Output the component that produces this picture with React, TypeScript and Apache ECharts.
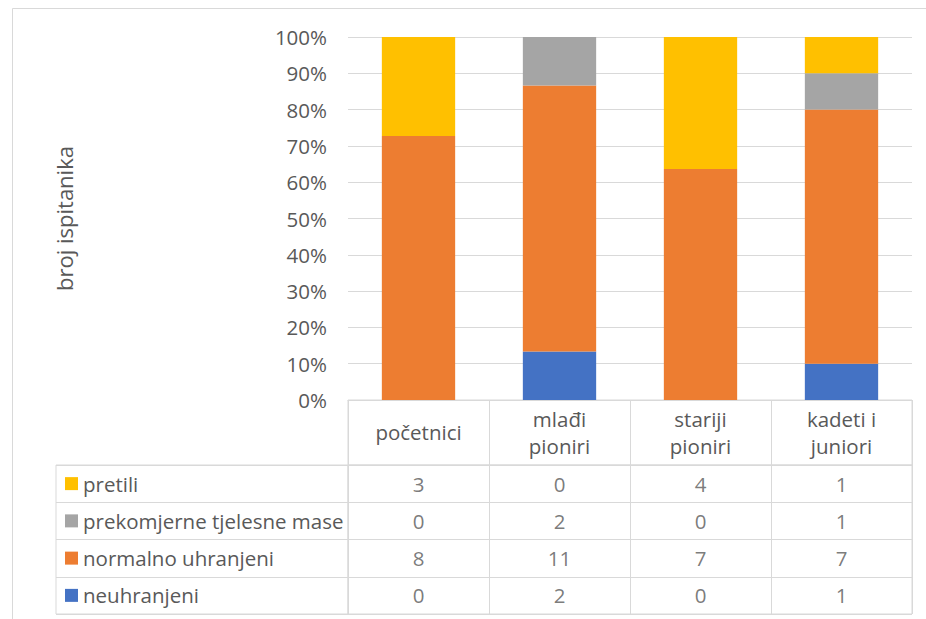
import React, { useEffect, useRef } from "react";
import * as echarts from "echarts";

const categories = ["početnici", "mlađi\npioniri", "stariji\npioniri", "kadeti i\njuniori"];
const seriesNames = ["neuhranjeni", "normalno uhranjeni", "prekomjerne tjelesne mase", "pretili"];
const neuhranjeni = [0, 2, 0, 1];
const normalnoUhranjeni = [8, 11, 7, 7];
const prekomjerne = [0, 2, 0, 1];
const pretili = [3, 0, 4, 1];
const colors = ["#4472C4", "#ED7D31", "#A5A5A5", "#FFC000"];
const yTicks = { min: 0, max: 100, interval: 10 };
const yTitle = "broj ispitanika";

const FONT = '"Open Sans", "Noto Sans", sans-serif';
const TXT = "#595959";
const LINE = "#d9d9d9";
const FS = 20.5;

export default function App() {
  const ref = useRef<HTMLDivElement>(null);
  useEffect(() => {
    if (!ref.current) return;
    const chart = echarts.init(ref.current, null, { renderer: "svg" });
    const counts = [neuhranjeni, normalnoUhranjeni, prekomjerne, pretili];
    const totals = categories.map((_, i) => counts.reduce((s, arr) => s + arr[i], 0));
    // table rows, top to bottom
    const rowOrder = [3, 2, 1, 0];
    const rowNames = rowOrder.map((k) => seriesNames[k]);
    const tableData: any[] = [];
    rowOrder.forEach((k, r) => {
      counts[k].forEach((v, c) => tableData.push([c, r, v]));
    });
    const rich: any = {
      t: { fontSize: FS, fontFamily: FONT, color: TXT, padding: [0, 0, 0, 5] },
    };
    seriesNames.forEach((_, k) => {
      rich["k" + k] = { width: 13, height: 13, backgroundColor: colors[k] };
    });

    const option: any = {
      animation: false,
      textStyle: { fontFamily: FONT },
      graphic: [
        {
          type: "rect",
          silent: true,
          z: -10,
          shape: { x: 12.5, y: 8.5, width: 960, height: 700 },
          style: { fill: "none", stroke: LINE, lineWidth: 1 },
        },
      ],
      grid: [
        { left: 348, top: 37, width: 564, height: 363 },
        { left: 348, top: 400, width: 564, height: 65, show: true, borderColor: LINE, borderWidth: 1 },
        { left: 348, top: 465, width: 564, height: 149, show: true, borderColor: LINE, borderWidth: 1 },
        { left: 56, top: 465, width: 292, height: 149, show: true, borderColor: LINE, borderWidth: 1 },
      ],
      xAxis: [
        {
          type: "category",
          gridIndex: 0,
          data: categories,
          axisLine: { lineStyle: { color: LINE } },
          axisTick: { show: false },
          axisLabel: {
            interval: 0,
            margin: 32,
            verticalAlign: "middle",
            lineHeight: 27,
            fontSize: FS,
            fontFamily: FONT,
            color: TXT,
          },
        },
        {
          type: "category",
          gridIndex: 1,
          data: categories,
          axisLine: { show: false },
          axisTick: { show: false },
          axisLabel: { show: false },
          splitLine: { show: true, interval: 0, lineStyle: { color: LINE } },
        },
        {
          type: "category",
          gridIndex: 2,
          data: categories,
          axisLine: { show: false },
          axisTick: { show: false },
          axisLabel: { show: false },
          splitLine: { show: true, interval: 0, lineStyle: { color: LINE } },
        },
        { type: "value", gridIndex: 3, show: false, min: 0, max: 1 },
      ],
      yAxis: [
        {
          type: "value",
          gridIndex: 0,
          min: yTicks.min,
          max: yTicks.max,
          interval: yTicks.interval,
          name: yTitle,
          nameLocation: "middle",
          nameGap: 273,
          nameTextStyle: { fontSize: 22, fontFamily: FONT, color: TXT },
          axisLine: { show: false },
          axisTick: { show: false },
          axisLabel: {
            formatter: (v: number) => v + "%",
            margin: 21,
            fontSize: FS,
            fontFamily: FONT,
            color: TXT,
          },
          splitLine: { lineStyle: { color: LINE } },
        },
        { type: "value", gridIndex: 1, show: false, min: 0, max: 1 },
        {
          type: "category",
          gridIndex: 2,
          data: rowNames,
          inverse: true,
          axisLine: { show: false },
          axisTick: { show: false },
          axisLabel: { show: false },
          splitLine: { show: true, interval: 0, lineStyle: { color: LINE } },
        },
        {
          type: "category",
          gridIndex: 3,
          data: rowNames,
          inverse: true,
          axisLine: { show: false },
          axisTick: { show: false },
          splitLine: { show: true, interval: 0, lineStyle: { color: LINE } },
          axisLabel: {
            inside: true,
            align: "left",
            margin: 9,
            interval: 0,
            formatter: (v: string) => `{k${seriesNames.indexOf(v)}|}{t|${v}}`,
            rich,
          },
        },
      ],
      series: [
        ...seriesNames.map((name, k) => ({
          type: "bar",
          name,
          stack: "total",
          xAxisIndex: 0,
          yAxisIndex: 0,
          barWidth: "52%",
          itemStyle: { color: colors[k] },
          data: counts[k].map((v, i) => (v / totals[i]) * 100),
        })),
        {
          type: "scatter",
          xAxisIndex: 2,
          yAxisIndex: 2,
          symbolSize: 1,
          itemStyle: { color: "rgba(0,0,0,0)" },
          label: {
            show: true,
            position: "inside",
            formatter: (p: any) => String(p.value[2]),
            fontSize: FS,
            fontFamily: FONT,
            color: TXT,
          },
          data: tableData,
        },
      ],
    };
    chart.setOption(option);
    return () => chart.dispose();
  }, []);
  return (
    <div
      ref={ref}
      style={{ position: "fixed", left: 0, top: 0, width: 926, height: 619, background: "#fff" }}
    />
  );
}
